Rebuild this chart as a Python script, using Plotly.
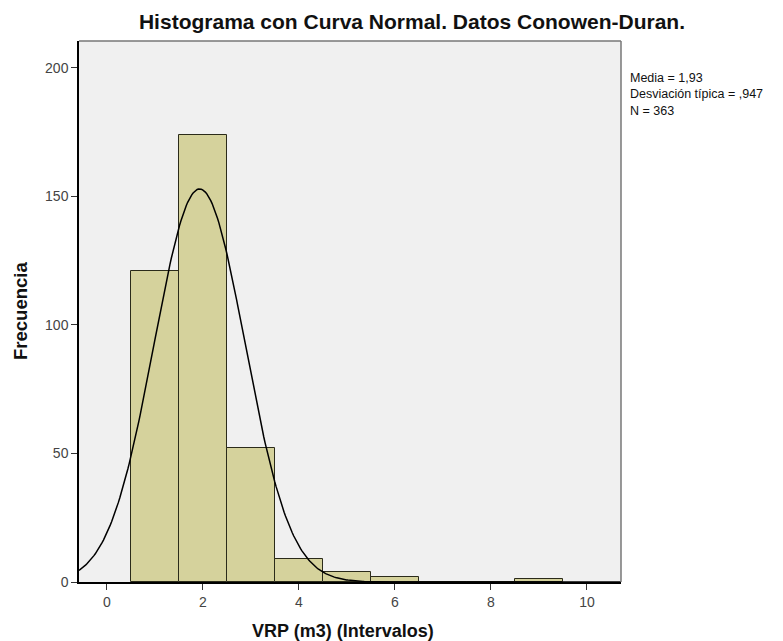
import numpy as np
import plotly.graph_objects as go

# Data
bin_centers = [1, 2, 3, 4, 5, 6, 7, 8, 9]
frequencies = [121, 174, 52, 9, 4, 2, 0, 0, 1]
bin_width = 1.0
media = 1.93
desv = 0.947
n_total = 363
x_ticks = [0, 2, 4, 6, 8, 10]
y_ticks = [0, 50, 100, 150, 200]
stats_lines = ["Media = 1,93", "Desviación típica = ,947", "N = 363"]

x_range = [-0.583, 10.71]
y_range = [0, 210.5]

xs = np.linspace(x_range[0], x_range[1], 400)
ys = n_total * bin_width / (desv * np.sqrt(2 * np.pi)) * np.exp(-0.5 * ((xs - media) / desv) ** 2)

fig = go.Figure()
fig.add_trace(go.Bar(
    x=bin_centers, y=frequencies, width=bin_width,
    marker=dict(color="#d5d29c", line=dict(color="#2b2b1a", width=1)),
    showlegend=False, hoverinfo="skip"))
fig.add_trace(go.Scatter(
    x=xs, y=ys, mode="lines", line=dict(color="black", width=1.5),
    showlegend=False, hoverinfo="skip"))

font = "Arial, Liberation Sans, sans-serif"
OFF = 8  # page body margin offset
W, H = 783 - OFF, 641 - OFF
L, T, PW, PH = 79, 41, 542, 541  # in page pixels

def px_x(px):
    return (px - L) / PW

def px_y(py):
    return (T + PH - py) / PH

annotations = [
    dict(text="<b>VRP (m3) (Intervalos)</b>", xref="paper", yref="paper",
         x=px_x(343), y=px_y(631), xanchor="center", yanchor="middle",
         showarrow=False, font=dict(size=18, color="#111", family=font)),
    dict(text="<b>Frecuencia</b>", xref="paper", yref="paper",
         x=px_x(20), y=px_y(311), xanchor="center", yanchor="middle", textangle=-90,
         showarrow=False, font=dict(size=18.5, color="#111", family=font)),
    dict(text="<br>".join(stats_lines), xref="paper", yref="paper",
         x=px_x(628), y=px_y(69), xanchor="left", yanchor="top", align="left",
         showarrow=False, font=dict(size=12.5, color="#111", family=font)),
]

fig.update_layout(
    width=W, height=H,
    margin=dict(l=L - OFF, r=W - (L - OFF) - PW, t=T - OFF, b=H - (T - OFF) - PH),
    paper_bgcolor="white", plot_bgcolor="#f0f0f0",
    font=dict(family=font, color="#222"),
    title=dict(text="<b>Histograma con Curva Normal. Datos Conowen-Duran.</b>",
               x=(412 - OFF) / W, xref="container", xanchor="center",
               y=1 - (22 - OFF) / H, yref="container", yanchor="middle",
               font=dict(size=21, color="#111", family=font)),
    bargap=0,
    xaxis=dict(range=x_range, tickvals=x_ticks, ticks="outside", ticklen=6,
               tickcolor="#333", showline=True, linecolor="black", linewidth=1.5,
               showgrid=False, zeroline=False, automargin=False,
               tickfont=dict(size=14, color="#444")),
    yaxis=dict(range=y_range, tickvals=y_ticks, ticks="outside", ticklen=6,
               tickcolor="#333", showline=True, linecolor="black", linewidth=1.5,
               showgrid=False, zeroline=False, automargin=False,
               tickfont=dict(size=14, color="#444")),
    shapes=[
        dict(type="line", xref="paper", yref="paper", x0=0, x1=1, y0=1, y1=1,
             line=dict(color="#777", width=1.5)),
        dict(type="line", xref="paper", yref="paper", x0=1, x1=1, y0=0, y1=1,
             line=dict(color="#777", width=1.5)),
    ],
    annotations=annotations,
)

fig.write_html("out.html")
